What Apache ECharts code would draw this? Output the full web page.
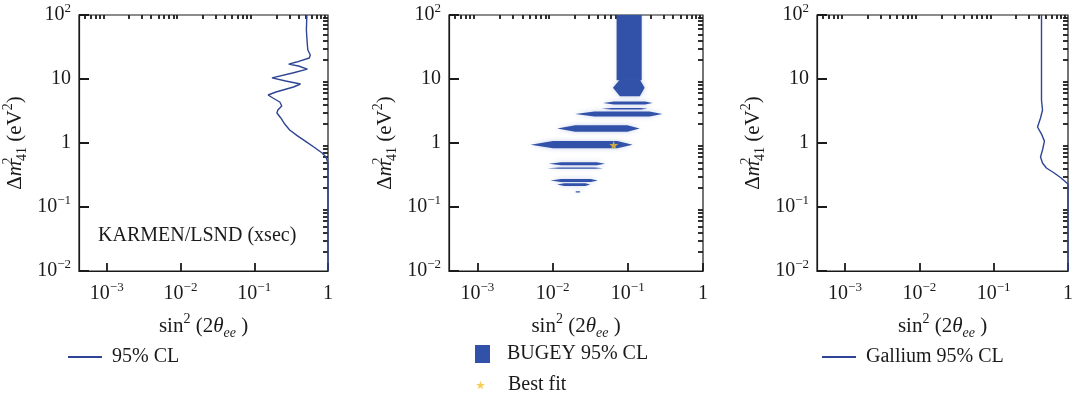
<!DOCTYPE html>
<html>
<head>
<meta charset="utf-8">
<script src="https://cdn.jsdelivr.net/npm/echarts@6/dist/echarts.min.js"></script>
<style>
  html, body { margin: 0; padding: 0; background: #ffffff; }
  #chart { width: 1076px; height: 398px; }
</style>
</head>
<body>
<div id="chart"></div>
<script>
// Axis tick labels (sin^2(2θee) and Δm^2_41)
const xTickLabels = [0.001, 0.01, 0.1, 1];
const yTickLabels = [0.01, 0.1, 1, 10, 100];

// KARMEN/LSND (xsec) 95% CL contour: [sin^2(2θee), Δm^2_41]
const karmenCurve = [
  [0.517, 100], [0.517, 96.5], [0.509, 58.3], [0.525, 34.0], [0.533, 28.4],
  [0.575, 23.7], [0.558, 21.3], [0.374, 18.4], [0.293, 17.1], [0.398, 15.96],
  [0.525, 14.3], [0.331, 12.4], [0.174, 10.4], [0.267, 9.3], [0.423, 8.35],
  [0.341, 7.5], [0.197, 6.26], [0.154, 5.62], [0.179, 5.05], [0.222, 4.37],
  [0.236, 3.79], [0.209, 3.28], [0.203, 2.94], [0.229, 2.46], [0.259, 1.98],
  [0.302, 1.60], [0.386, 1.29], [0.509, 1.04], [0.671, 0.835], [0.832, 0.698],
  [0.94, 0.604], [1, 0.487], [1, 0.01]
];

// Gallium 95% CL contour
const galliumCurve = [
  [0.440, 100], [0.440, 96.5], [0.440, 19.8], [0.440, 4.70], [0.454, 3.28],
  [0.427, 2.46], [0.389, 1.78], [0.440, 1.38], [0.482, 1.07], [0.454, 0.777],
  [0.427, 0.604], [0.454, 0.487], [0.512, 0.407], [0.653, 0.340], [0.808, 0.284],
  [1, 0.229], [1, 0.01]
];

// BUGEY 95% CL allowed islands: [sin2 min, sin2 max, Δm2 low, Δm2 high]
const bugeyColumn = [[0.071, 0.153, 9.6, 100]];
const bugeyBands = [
  [0.0635, 0.1675, 5.4, 9.8],
  [0.047, 0.213, 4.0, 4.45],
  [0.045, 0.183, 3.33, 3.52],
  [0.020, 0.289, 2.6, 3.1],
  [0.0115, 0.144, 1.5, 1.9],
  [0.0051, 0.116, 0.83, 1.07],
  [0.0089, 0.050, 0.45, 0.50],
  [0.0085, 0.047, 0.395, 0.415],
  [0.0094, 0.040, 0.245, 0.275],
  [0.0115, 0.0316, 0.212, 0.236],
  [0.020, 0.0234, 0.168, 0.176]
];
const bestFit = [[0.065, 0.93]];

const X_MIN = 4.2e-4, X_MAX = 1;
const Y_MIN = 0.01, Y_MAX = 100;

const INK = '#1a1a1a';
const LINE_BLUE = '#2f4494';
const FILL_BLUE = '#3152a8';
const STAR_YELLOW = '#f3c22c';
const SERIF = '"Liberation Serif", "DejaVu Serif", serif';

// minor tick values 2..9 × 10^n inside a range
function minorTicks(lo, hi) {
  const out = [];
  for (let e = Math.floor(Math.log10(lo)); e < Math.ceil(Math.log10(hi)); e++) {
    for (let m = 2; m <= 9; m++) {
      const v = m * Math.pow(10, e);
      if (v >= lo && v <= hi) out.push(+v.toPrecision(6));
    }
  }
  return out;
}

function powLabel(v) {
  const e = Math.round(Math.log10(v));
  if (e === 0) return '{b|1}';
  if (e === 1) return '{b|10}';
  return '{b|10}{sup|' + (e < 0 ? '\u2212' + (-e) : e) + '}';
}

const labelRich = {
  b: { fontFamily: SERIF, fontSize: 20, color: INK, lineHeight: 26 },
  sup: { fontFamily: SERIF, fontSize: 13, color: INK, verticalAlign: 'top', lineHeight: 14 }
};

const nameRich = {
  b: { fontFamily: SERIF, fontSize: 21, color: INK, lineHeight: 28 },
  it: { fontFamily: SERIF, fontSize: 21, fontStyle: 'italic', color: INK, lineHeight: 28 },
  sup: { fontFamily: SERIF, fontSize: 14, color: INK, verticalAlign: 'top', lineHeight: 14 },
  supStack: { fontFamily: SERIF, fontSize: 14, color: INK, verticalAlign: 'top', lineHeight: 14, width: 0 },
  sub: { fontFamily: SERIF, fontSize: 14, fontStyle: 'italic', color: INK, verticalAlign: 'bottom', lineHeight: 14 },
  subUp: { fontFamily: SERIF, fontSize: 14, color: INK, verticalAlign: 'bottom', lineHeight: 14 }
};

const xName = '{b|sin}{sup|2}{b| (2}{it|\u03b8}{sub|ee}{b| )}';
const yName = '{b|\u0394}{it|m}{supStack|2}{subUp|41}{b| (eV}{sup|2}{b|)}';

const panels = [
  { left: 77, width: 251 },
  { left: 449, width: 254 },
  { left: 817, width: 256 }
];
const GRID_TOP = 15, GRID_H = 256;

const grids = panels.map(p => ({
  left: p.left, top: GRID_TOP, width: p.width, height: GRID_H,
  show: true, borderColor: INK, borderWidth: 1.2, backgroundColor: 'transparent'
}));

const xAxes = [], yAxes = [];
panels.forEach((p, i) => {
  xAxes.push({
    type: 'log', logBase: 10, gridIndex: i, min: X_MIN, max: X_MAX,
    axisLine: { show: true, lineStyle: { color: INK, width: 1.2 } },
    axisTick: { show: true, inside: true, length: 8, customValues: xTickLabels, lineStyle: { color: INK, width: 1.8 } },
    axisLabel: { customValues: xTickLabels, formatter: powLabel, rich: labelRich, margin: 10 },
    splitLine: { show: false },
    name: xName, nameLocation: 'middle', nameGap: 41,
    nameTextStyle: { rich: nameRich }
  });
  xAxes.push({
    type: 'log', logBase: 10, gridIndex: i, min: X_MIN, max: X_MAX,
    axisLine: { show: false },
    axisTick: { show: true, inside: true, length: 4, customValues: minorTicks(X_MIN, X_MAX), lineStyle: { color: INK, width: 1.8 } },
    axisLabel: { show: false },
    splitLine: { show: false }
  });
  yAxes.push({
    type: 'log', logBase: 10, gridIndex: i, min: Y_MIN, max: Y_MAX,
    axisLine: { show: true, lineStyle: { color: INK, width: 1.2 } },
    axisTick: { show: true, inside: true, length: 10, customValues: yTickLabels, lineStyle: { color: INK, width: 2 } },
    axisLabel: { customValues: yTickLabels, formatter: powLabel, rich: labelRich, margin: 8 },
    splitLine: { show: false },
    name: yName, nameLocation: 'middle', nameGap: 50, nameRotate: 90,
    nameTextStyle: { rich: nameRich }
  });
  yAxes.push({
    type: 'log', logBase: 10, gridIndex: i, min: Y_MIN, max: Y_MAX,
    axisLine: { show: false },
    axisTick: { show: true, inside: true, length: 5, customValues: minorTicks(Y_MIN, Y_MAX), lineStyle: { color: INK, width: 1.8 } },
    axisLabel: { show: false },
    splitLine: { show: false }
  });
});

// lens-shaped island between two sin2 values and two Δm2 values
function renderBand(params, api) {
  const a = api.coord([api.value(0), api.value(2)]);
  const b = api.coord([api.value(1), api.value(3)]);
  const x0 = a[0], x1 = b[0], yb = a[1], yt = b[1];
  const ym = (yb + yt) / 2, w = x1 - x0;
  const pts = [
    [x0, ym], [x0 + 0.22 * w, yt], [x1 - 0.15 * w, yt],
    [x1, ym], [x1 - 0.15 * w, yb], [x0 + 0.22 * w, yb]
  ];
  return {
    type: 'polygon', shape: { points: pts },
    style: { fill: FILL_BLUE, shadowColor: 'rgba(70,100,190,0.3)', shadowBlur: 5 }
  };
}
function renderColumn(params, api) {
  const a = api.coord([api.value(0), api.value(2)]);
  const b = api.coord([api.value(1), api.value(3)]);
  return {
    type: 'rect',
    shape: { x: a[0], y: b[1], width: b[0] - a[0], height: a[1] - b[1] },
    style: { fill: FILL_BLUE, shadowColor: 'rgba(70,100,190,0.3)', shadowBlur: 3 }
  };
}

const STAR = 'path://M50,0 L61,35 L98,35 L68,57 L79,91 L50,70 L21,91 L32,57 L2,35 L39,35 Z';
const LINE_ICON = 'path://M0,6 L34,6 L34,8 L0,8 Z';

const legendText = { fontFamily: SERIF, fontSize: 20, color: INK };

const option = {
  animation: false,
  backgroundColor: '#ffffff',
  grid: grids,
  xAxis: xAxes,
  yAxis: yAxes,
  legend: [
    { data: ['95% CL'], left: 63, top: 342, itemWidth: 34, itemHeight: 14,
      selectedMode: false, textStyle: Object.assign({ padding: [0, 0, 0, 5] }, legendText), icon: LINE_ICON },
    { data: [{ name: 'BUGEY 95% CL', icon: 'rect' }], left: 470, top: 339, itemWidth: 15, itemHeight: 18,
      selectedMode: false, textStyle: Object.assign({ padding: [0, 0, 0, 12] }, legendText) },
    { data: [{ name: 'Best fit', icon: STAR }], left: 471, top: 370, itemWidth: 9, itemHeight: 9,
      selectedMode: false, textStyle: Object.assign({ padding: [0, 0, 0, 18] }, legendText) },
    { data: ['Gallium 95% CL'], left: 817, top: 342, itemWidth: 34, itemHeight: 14,
      selectedMode: false, textStyle: Object.assign({ padding: [0, 0, 0, 5] }, legendText), icon: LINE_ICON }
  ],
  graphic: [
    { type: 'text', left: 98, top: 226, style: { text: 'KARMEN/LSND (xsec)', font: '20px ' + SERIF, fill: INK } }
  ],
  series: [
    { name: '95% CL', type: 'line', xAxisIndex: 0, yAxisIndex: 0, data: karmenCurve,
      showSymbol: false, symbol: 'none', lineStyle: { color: LINE_BLUE, width: 1.4 }, itemStyle: { color: LINE_BLUE } },
    { name: 'BUGEY 95% CL', type: 'custom', xAxisIndex: 2, yAxisIndex: 2, data: bugeyColumn,
      encode: { x: [0, 1], y: [2, 3] }, renderItem: renderColumn, itemStyle: { color: FILL_BLUE }, clip: true },
    { name: 'BUGEY 95% CL', type: 'custom', xAxisIndex: 2, yAxisIndex: 2, data: bugeyBands,
      encode: { x: [0, 1], y: [2, 3] }, renderItem: renderBand, itemStyle: { color: FILL_BLUE }, clip: true },
    { name: 'Best fit', type: 'scatter', xAxisIndex: 2, yAxisIndex: 2, data: bestFit,
      symbol: STAR, symbolSize: 9, itemStyle: { color: STAR_YELLOW }, z: 5 },
    { name: 'Gallium 95% CL', type: 'line', xAxisIndex: 4, yAxisIndex: 4, data: galliumCurve,
      showSymbol: false, symbol: 'none', lineStyle: { color: LINE_BLUE, width: 1.4 }, itemStyle: { color: LINE_BLUE } }
  ]
};

const chart = echarts.init(document.getElementById('chart'), null, { renderer: 'canvas' });
chart.setOption(option);
</script>
</body>
</html>
